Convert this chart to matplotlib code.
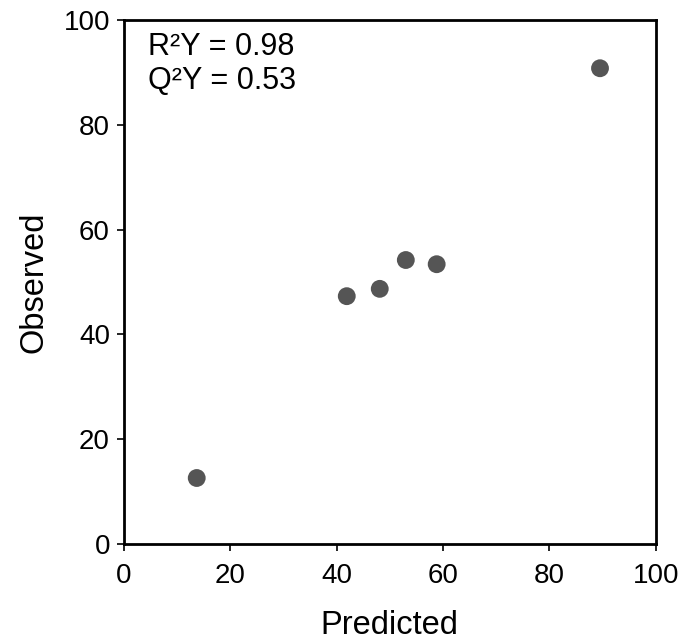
import matplotlib
matplotlib.use("Agg")
import matplotlib.pyplot as plt

predicted = [13.7, 41.9, 48.1, 53.0, 58.8, 89.5]
observed = [12.6, 47.3, 48.7, 54.2, 53.4, 90.8]
ticks = [0, 20, 40, 60, 80, 100]
r2y = 0.98
q2y = 0.53

plt.rcParams['font.family'] = ['Liberation Sans', 'DejaVu Sans']

fig = plt.figure(figsize=(6.88, 6.42), dpi=100)
ax = fig.add_axes([0.180, 0.1526, 0.7733, 0.8162])

ax.scatter(predicted, observed, s=165, color="#555555", edgecolors="none", zorder=3)

ax.set_xlim(0, 100)
ax.set_ylim(0, 100)
ax.set_xticks(ticks)
ax.set_yticks(ticks)
ax.tick_params(direction="out", length=5, width=1.2, labelsize=20)
ax.tick_params(axis="x", pad=9)
ax.tick_params(axis="y", pad=5)
for sp in ax.spines.values():
    sp.set_linewidth(2.0)

ax.set_xlabel("Predicted", fontsize=23.5, labelpad=15)
ax.set_ylabel("Observed", fontsize=23.5, labelpad=10)

ax.text(0.045, 0.977, "R²Y = %.2f\nQ²Y = %.2f" % (r2y, q2y), transform=ax.transAxes,
        fontsize=22, va="top", ha="left", linespacing=1.15)

fig.savefig("out.png", dpi=100)
